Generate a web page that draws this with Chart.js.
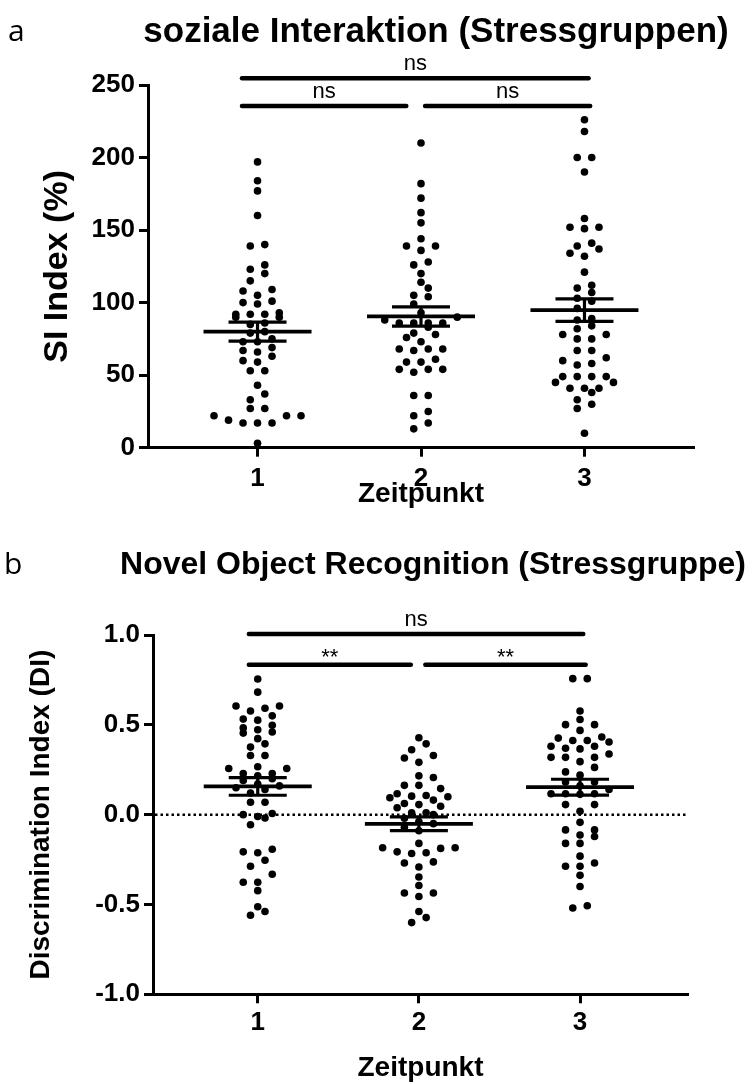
<!DOCTYPE html>
<html>
<head>
<meta charset="utf-8">
<title>Stressgruppen</title>
<script src="https://cdn.jsdelivr.net/npm/chart.js@4.4.0/dist/chart.umd.min.js"></script>
<style>
  html, body { margin: 0; padding: 0; background: #fff; }
  .panel { position: absolute; left: 0; width: 753px; }
</style>
</head>
<body>
<div class="panel" style="top:0;height:530px"><canvas id="siChart" width="753" height="530"></canvas></div>
<div class="panel" style="top:530px;height:554px"><canvas id="diChart" width="753" height="554"></canvas></div>
<script>
const FONT = '"Liberation Sans", Arial, sans-serif';

const zeitpunkte = ['1', '2', '3'];
const siTickLabels = ['0', '50', '100', '150', '200', '250'];
const diTickLabels = ['-1.0', '-0.5', '0.0', '0.5', '1.0'];

// SI Index (%) je Tier, Zeitpunkt 1-3
const siZeit1 = [197, 184, 177, 160, 140, 139, 126, 123, 120, 115, 109, 108, 105, 101, 100, 99,
  93, 92, 92, 92, 90, 90, 86, 85, 80, 79, 75, 73, 73, 69, 67, 66, 63, 60, 59, 53, 53, 43, 37,
  33, 27, 27, 22, 22, 22, 19, 17, 17, 17, 3];
const siZeit2 = [210, 182, 172, 162, 155, 144, 139, 139, 136, 128, 126, 120, 114, 110, 105, 104,
  99, 93, 90, 88, 86, 86, 86, 86, 83, 79, 78, 76, 73, 68, 68, 68, 67, 61, 59, 59, 54, 54, 54,
  52, 36, 36, 25, 22, 17, 13];
const siZeit3 = [226, 218, 200, 200, 190, 158, 152, 152, 151, 141, 139, 137, 134, 132, 121, 112,
  110, 107, 103, 101, 96, 88, 89, 84, 82, 78, 78, 75, 75, 67, 67, 62, 60, 58, 57, 49, 49, 49,
  49, 45, 45, 41, 41, 41, 38, 33, 30, 27, 10];

// Discrimination Index (DI) je Tier, Zeitpunkt 1-3
const diZeit1 = [0.755, 0.682, 0.605, 0.605, 0.592, 0.577, 0.550, 0.532, 0.526, 0.498, 0.483,
  0.473, 0.460, 0.454, 0.423, 0.394, 0.376, 0.329, 0.329, 0.267, 0.257, 0.257, 0.229, 0.229,
  0.216, 0.20, 0.19, 0.17, 0.16, 0.15, 0.14, 0.12, 0.069, 0.069, 0.006, 0.0, -0.01, -0.019,
  -0.056, -0.193, -0.207, -0.212, -0.254, -0.287, -0.332, -0.376, -0.376, -0.423, -0.513,
  -0.539, -0.560];
const diZeit2 = [0.428, 0.394, 0.361, 0.329, 0.315, 0.291, 0.216, 0.207, 0.163, 0.163, 0.145,
  0.116, 0.107, 0.103, 0.100, 0.094, 0.081, 0.062, 0.056, 0.047, 0.038, 0.010, 0.010, 0.0,
  -0.02, -0.038, -0.05, -0.07, -0.09, -0.160, -0.184, -0.184, -0.188, -0.207, -0.212, -0.216,
  -0.263, -0.269, -0.291, -0.347, -0.394, -0.436, -0.436, -0.456, -0.539, -0.573, -0.601];
const diZeit3 = [0.757, 0.757, 0.577, 0.530, 0.501, 0.501, 0.469, 0.432, 0.426, 0.413, 0.413,
  0.404, 0.381, 0.381, 0.370, 0.366, 0.338, 0.319, 0.319, 0.319, 0.295, 0.263, 0.238, 0.220,
  0.182, 0.182, 0.16, 0.14, 0.116, 0.116, 0.116, 0.113, 0.056, 0.056, 0.019, -0.043, -0.085,
  -0.085, -0.113, -0.122, -0.160, -0.160, -0.231, -0.269, -0.287, -0.287, -0.338, -0.400,
  -0.507, -0.520];

// dot layout (pixels)
const ROW_H = 8;
const STEP = 14.5;

function dots(values, pos) {
  return {
    values,
    pos,
    data: values.map(v => ({ x: pos, y: v })),
    backgroundColor: '#000',
    borderWidth: 0,
    pointRadius: 3.8,
    pointHoverRadius: 3.8,
    clip: false
  };
}

// spread the dots of each group sideways, row by row, like a scatter dot plot
function arrangeSwarm(chart) {
  const xs = chart.scales.x, ys = chart.scales.y;
  const unit = xs.getPixelForValue(1) - xs.getPixelForValue(0);
  chart.data.datasets.forEach(ds => {
    const sorted = ds.values.slice().sort((a, b) => a - b);
    const out = [];
    let row = [];
    const flush = () => {
      const k = row.length;
      const slots = Array.from({ length: k }, (_, i) => i - (k - 1) / 2)
        .sort((a, b) => Math.abs(a) - Math.abs(b) || a - b);
      row.forEach((v, i) => out.push({ x: ds.pos + slots[i] * STEP / unit, y: v }));
      row = [];
    };
    sorted.forEach(v => {
      if (row.length && ys.getPixelForValue(row[0]) - ys.getPixelForValue(v) > ROW_H) flush();
      row.push(v);
    });
    flush();
    ds.data = out;
  });
  chart.update('none');
}

// mean +/- SEM bars
const meanSem = {
  id: 'meanSem',
  afterDatasetsDraw(chart, args, opts) {
    const { ctx, scales: { x, y } } = chart;
    ctx.save();
    ctx.strokeStyle = '#000';
    const seg = (x0, y0, x1, y1) => { ctx.beginPath(); ctx.moveTo(x0, y0); ctx.lineTo(x1, y1); ctx.stroke(); };
    chart.data.datasets.forEach(ds => {
      const n = ds.values.length;
      const mean = ds.values.reduce((s, v) => s + v, 0) / n;
      const sd = Math.sqrt(ds.values.reduce((s, v) => s + (v - mean) ** 2, 0) / (n - 1));
      const sem = sd / Math.sqrt(n);
      const cx = x.getPixelForValue(ds.pos);
      const yM = y.getPixelForValue(mean);
      const yHi = y.getPixelForValue(mean + sem);
      const yLo = y.getPixelForValue(mean - sem);
      ctx.lineWidth = 3.8;
      seg(cx - opts.meanHalf, yM, cx + opts.meanHalf, yM);
      ctx.lineWidth = 3.2;
      seg(cx - opts.semHalf, yHi, cx + opts.semHalf, yHi);
      seg(cx - opts.semHalf, yLo, cx + opts.semHalf, yLo);
      seg(cx, yHi, cx, yLo);
    });
    ctx.restore();
  }
};

// significance brackets above the groups
const sigBars = {
  id: 'sigBars',
  afterDraw(chart, args, opts) {
    const { ctx, scales: { x, y } } = chart;
    ctx.save();
    ctx.lineCap = 'round';
    ctx.lineWidth = 4.5;
    ctx.strokeStyle = '#000';
    ctx.fillStyle = '#000';
    ctx.font = '22px ' + FONT;
    ctx.textAlign = 'center';
    ctx.textBaseline = 'alphabetic';
    opts.bars.forEach(b => {
      const x0 = x.getPixelForValue(b.from);
      const x1 = x.getPixelForValue(b.to);
      const py = y.getPixelForValue(b.level);
      ctx.beginPath(); ctx.moveTo(x0, py); ctx.lineTo(x1, py); ctx.stroke();
      const m = ctx.measureText(b.label);
      ctx.fillText(b.label, (x0 + x1) / 2, py - opts.gap - m.actualBoundingBoxDescent);
    });
    ctx.restore();
  }
};

// panel letter and heading
const panelTitle = {
  id: 'panelTitle',
  afterDraw(chart, args, opts) {
    const { ctx } = chart;
    ctx.save();
    ctx.fillStyle = '#000';
    ctx.textBaseline = 'middle';
    ctx.textAlign = 'left';
    ctx.font = '30px "Open Sans", ' + FONT;
    ctx.fillText(opts.letter, opts.letterX, opts.y);
    ctx.textAlign = 'center';
    ctx.font = 'bold ' + opts.size + 'px ' + FONT;
    ctx.fillText(opts.text, opts.x, opts.y);
    ctx.restore();
  }
};

// dotted reference line at y = 0
const zeroLine = {
  id: 'zeroLine',
  beforeDatasetsDraw(chart, args, opts) {
    if (!opts.show) return;
    const { ctx, chartArea, scales: { y } } = chart;
    const py = y.getPixelForValue(0);
    ctx.save();
    ctx.strokeStyle = '#000';
    ctx.lineWidth = 2.5;
    ctx.setLineDash([2.5, 3]);
    ctx.beginPath();
    ctx.moveTo(chartArea.left + 2, py);
    ctx.lineTo(chartArea.right, py);
    ctx.stroke();
    ctx.restore();
  }
};

function axisFont(size) {
  return { family: FONT, size, weight: 'bold' };
}

function makeChart(id, cfg) {
  const chart = new Chart(document.getElementById(id), {
    type: 'scatter',
    data: { datasets: cfg.groups.map((vals, i) => dots(vals, i + 1)) },
    options: {
      responsive: false,
      animation: false,
      events: [],
      layout: { padding: cfg.padding },
      plugins: {
        legend: { display: false },
        tooltip: { enabled: false },
        meanSem: { meanHalf: 54, semHalf: 29 },
        sigBars: { bars: cfg.bars, gap: 8 },
        panelTitle: cfg.heading,
        zeroLine: { show: cfg.zeroLine }
      },
      scales: {
        x: {
          type: 'linear',
          min: cfg.xMin,
          max: 3.67,
          afterBuildTicks: s => { s.ticks = zeitpunkte.map((_, i) => ({ value: i + 1 })); },
          afterFit: s => { s.height = cfg.xHeight; },
          grid: { drawOnChartArea: false, drawTicks: true, tickLength: 9, tickWidth: 3, tickColor: '#000' },
          border: { display: true, width: 3, color: '#000' },
          ticks: {
            color: '#000',
            font: axisFont(26),
            padding: cfg.xTickPad,
            callback: (v, i) => zeitpunkte[i]
          },
          title: {
            display: true,
            text: 'Zeitpunkt',
            color: '#000',
            font: { family: FONT, size: 28, weight: 'bold', lineHeight: 1.1 },
            padding: { top: 0, bottom: cfg.xTitlePad }
          }
        },
        y: {
          min: cfg.yMin,
          max: cfg.yMax,
          afterBuildTicks: s => { s.ticks = cfg.tickLabels.map(t => ({ value: parseFloat(t) })); },
          afterFit: s => { s.width = cfg.yWidth; },
          grid: { drawOnChartArea: false, drawTicks: true, tickLength: 9, tickWidth: 3, tickColor: '#000' },
          border: { display: true, width: 3, color: '#000' },
          ticks: {
            color: '#000',
            font: axisFont(26),
            padding: 4,
            callback: (v, i) => cfg.tickLabels[i]
          },
          title: {
            display: true,
            text: cfg.yTitle,
            color: '#000',
            font: axisFont(cfg.yTitleSize),
            padding: { top: cfg.yTitlePad, bottom: 0 }
          }
        }
      }
    },
    plugins: [zeroLine, meanSem, sigBars, panelTitle]
  });
  arrangeSwarm(chart);
  return chart;
}

makeChart('siChart', {
  groups: [siZeit1, siZeit2, siZeit3],
  tickLabels: siTickLabels,
  yMin: 0,
  yMax: 250,
  xMin: 0.33,
  padding: { top: 85, right: 59, bottom: 0, left: 0 },
  yWidth: 148,
  xHeight: 82.3,
  xTickPad: 7,
  xTitlePad: 20,
  yTitle: 'SI Index (%)',
  yTitleSize: 34,
  yTitlePad: 37,
  zeroLine: false,
  heading: { letter: 'a', letterX: 8, text: 'soziale Interaktion (Stressgruppen)', x: 436, y: 32, size: 35 },
  bars: [
    { from: 0.905, to: 3.025, level: 254.6, label: 'ns' },
    { from: 0.905, to: 1.91, level: 235.5, label: 'ns' },
    { from: 2.025, to: 3.035, level: 235.5, label: 'ns' }
  ]
});

makeChart('diChart', {
  groups: [diZeit1, diZeit2, diZeit3],
  tickLabels: diTickLabels,
  yMin: -1,
  yMax: 1,
  xMin: 0.35,
  padding: { top: 105, right: 65, bottom: 0, left: 0 },
  yWidth: 153,
  xHeight: 89.7,
  xTickPad: 3.5,
  xTitlePad: 0,
  yTitle: 'Discrimination Index (DI)',
  yTitleSize: 28,
  yTitlePad: 24,
  zeroLine: true,
  heading: { letter: 'b', letterX: 4, text: 'Novel Object Recognition (Stressgruppe)', x: 433, y: 35, size: 32 },
  bars: [
    { from: 0.945, to: 3.02, level: 1.005, label: 'ns' },
    { from: 0.945, to: 1.95, level: 0.835, label: '**' },
    { from: 2.04, to: 3.035, level: 0.835, label: '**' }
  ]
});
</script>
</body>
</html>
